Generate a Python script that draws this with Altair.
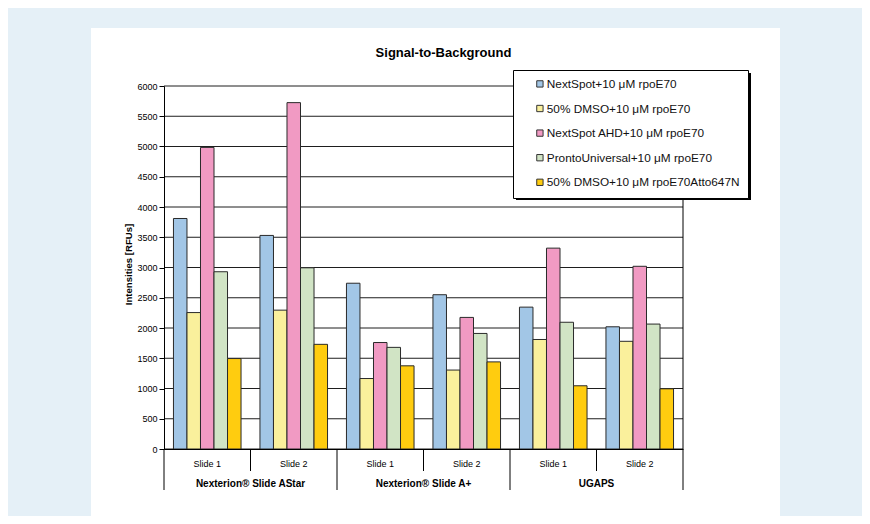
import altair as alt
import pandas as pd

# ---- data ----
groups = ["Nexterion® Slide AStar", "Nexterion® Slide A+", "UGAPS"]
slides = ["Slide 1", "Slide 2"]
series = [
    "NextSpot+10 μM rpoE70",
    "50% DMSO+10 μM rpoE70",
    "NextSpot AHD+10 μM rpoE70",
    "ProntoUniversal+10 μM rpoE70",
    "50% DMSO+10 μM rpoE70Atto647N",
]
colors = ["#a2c6e6", "#faf09c", "#f19ac3", "#d1e4c5", "#ffcc0f"]

# values per series, in order: AStar S1, AStar S2, A+ S1, A+ S2, UGAPS S1, UGAPS S2
v_nextspot = [3810, 3530, 2740, 2550, 2345, 2020]
v_dmso = [2255, 2295, 1165, 1305, 1810, 1780]
v_ahd = [4985, 5725, 1760, 2175, 3320, 3020]
v_pronto = [2930, 2995, 1680, 1910, 2095, 2065]
v_atto = [1495, 1730, 1375, 1440, 1045, 995]
all_values = [v_nextspot, v_dmso, v_ahd, v_pronto, v_atto]

y_ticks = list(range(0, 6001, 500))

# ---- tables ----
slots = [f"{g}|{s}" for g in groups for s in slides]
rows = []
for si, name in enumerate(series):
    for k, slot in enumerate(slots):
        rows.append({"slot": slot, "series": name, "value": all_values[si][k]})
df = pd.DataFrame(rows)

short_df = pd.DataFrame({"slot": [f"{g}|{slides[1]}" for g in groups]})
long_df = pd.DataFrame({"slot": [f"{g}|{slides[0]}" for g in groups]})
end_df = pd.DataFrame({"slot": [slots[-1]]})
grp_df = pd.DataFrame({"slot": [f"{g}|{slides[1]}" for g in groups], "label": groups})
grid_df = pd.DataFrame({"value": y_ticks})
panel_df = pd.DataFrame({"a": [0]})

FONT = "Liberation Sans"
W, H = 519, 363
xscale = alt.Scale(domain=slots, paddingInner=0, paddingOuter=0)
yscale = alt.Scale(domain=[0, 6000], nice=False)

yaxis = alt.Axis(
    title="Intensities [RFUs]",
    values=y_ticks,
    format="d",
    grid=False,
    labelOverlap=False,
    tickSize=5,
    tickColor="#000000",
    domainColor="#000000",
    labelFontSize=9,
    labelPadding=2,
    labelColor="#000000",
    titleFontSize=9.6,
    titleFontWeight="bold",
    titleX=-36,
    titleY=178,
    titleAlign="center",
    titleBaseline="middle",
    titleAngle=270,
    titleColor="#000000",
    zindex=1,
)

panel = alt.Chart(panel_df).mark_rect(fill="white").encode(
    x=alt.value(-73), x2=alt.value(616), y=alt.value(-58), y2=alt.value(440)
)

shadow = alt.Chart(panel_df).mark_rect(fill="#000000").encode(
    x=alt.value(352), x2=alt.value(587), y=alt.value(-13), y2=alt.value(114)
)

grid = alt.Chart(grid_df).mark_rule(color="#1e1e1e", strokeWidth=1).encode(
    y=alt.Y("value:Q", scale=yscale, axis=yaxis),
    x=alt.value(0),
    x2=alt.value(W),
)

bars = alt.Chart(df).mark_bar(stroke="#2a2a2a", strokeWidth=1).encode(
    x=alt.X(
        "slot:N",
        scale=xscale,
        axis=alt.Axis(
            title=None,
            ticks=False,
            tickSize=0,
            labelExpr="split(datum.label, '|')[1]",
            labelFontSize=9,
            labelPadding=10,
            labelAngle=0,
            domainColor="#000000",
            labelColor="#000000",
            zindex=1,
        ),
    ),
    xOffset=alt.XOffset(
        "series:N", scale=alt.Scale(domain=series, paddingInner=0, paddingOuter=0.7)
    ),
    y=alt.Y("value:Q", scale=yscale, axis=yaxis),
    color=alt.Color(
        "series:N",
        scale=alt.Scale(domain=series, range=colors),
        legend=alt.Legend(
            title=None,
            orient="none",
            legendX=349,
            legendY=-16,
            fillColor="white",
            strokeColor="#000000",
            padding=8,
            symbolType="square",
            symbolSize=40,
            symbolStrokeColor="#333333",
            symbolStrokeWidth=1,
            symbolOffset=13,
            labelFontSize=11.8,
            labelOffset=1,
            labelColor="#111111",
            rowPadding=11.6,
            labelLimit=400,
        ),
    ),
)

short_rules = alt.Chart(short_df).mark_rule(color="#000000", strokeWidth=1).encode(
    x=alt.X("slot:N", scale=xscale, bandPosition=0),
    y=alt.value(H),
    y2=alt.value(H + 22),
)
long_rules = alt.Chart(long_df).mark_rule(color="#000000", strokeWidth=1).encode(
    x=alt.X("slot:N", scale=xscale, bandPosition=0),
    y=alt.value(H),
    y2=alt.value(H + 41),
)
end_rule = alt.Chart(end_df).mark_rule(color="#000000", strokeWidth=1).encode(
    x=alt.X("slot:N", scale=xscale, bandPosition=1),
    y=alt.value(0),
    y2=alt.value(H + 41),
)
grp_text = alt.Chart(grp_df).mark_text(
    fontSize=10, fontWeight="bold", color="#000000", baseline="middle"
).encode(
    x=alt.X("slot:N", scale=xscale, bandPosition=0),
    y=alt.value(H + 35),
    text="label:N",
)

chart = (
    alt.layer(panel, shadow, grid, bars, short_rules, long_rules, end_rule, grp_text)
    .properties(
        width=W,
        height=H,
        padding={"left": 156, "top": 78, "right": 179, "bottom": 67},
        autosize=alt.AutoSizeParams(type="none"),
        background="#e5f0f7",
        title=alt.TitleParams(
            "Signal-to-Background",
            fontSize=13,
            fontWeight="bold",
            anchor="middle",
            dx=20,
            offset=-32,
            color="#000000",
            font=FONT,
        ),
    )
    .configure(font=FONT)
    .configure_view(stroke=None)
    .configure_axis(labelFont=FONT, titleFont=FONT)
    .configure_legend(labelFont=FONT)
)

chart.save("out.html", embed_options={"renderer": "svg", "actions": False})
